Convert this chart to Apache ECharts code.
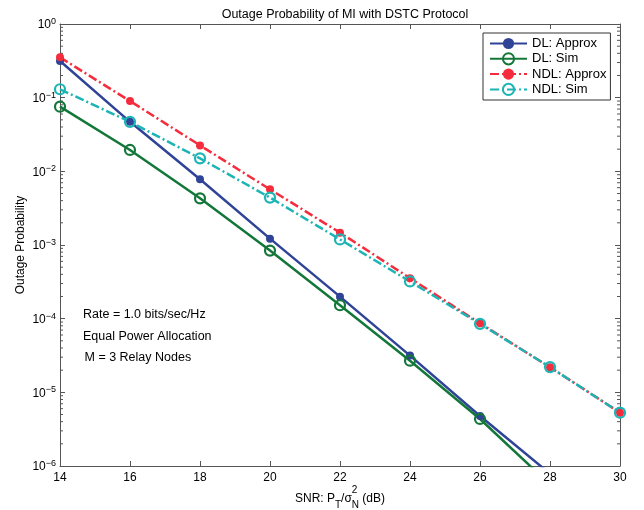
<!DOCTYPE html>
<html><head><meta charset="utf-8">
<script src="https://cdn.jsdelivr.net/npm/echarts@6/dist/echarts.min.js"></script>
<style>html,body{margin:0;padding:0;background:#fff}#c{width:644px;height:510px}</style>
</head><body><div id="c"></div>
<script>
// ---- data ----
const snr = [14, 16, 18, 20, 22, 24, 26, 28, 30];
const dlApprox  = [0.315, 0.047, 0.0078, 0.00122, 1.99e-4, 3.15e-5, 4.77e-6, 7.85e-7, 1.25e-7];
const dlSim     = [0.0755, 0.0195, 0.0043, 8.4e-4, 1.52e-4, 2.69e-5, 4.35e-6, 5.6e-7, 8.0e-8];
const ndlApprox = [0.353, 0.090, 0.0225, 0.0057, 0.00147, 3.55e-4, 8.65e-5, 2.19e-5, 5.3e-6];
const ndlSim    = [0.130, 0.047, 0.0150, 0.0044, 0.00119, 3.2e-4, 8.5e-5, 2.2e-5, 5.3e-6];
const seriesNames = ['DL: Approx', 'DL: Sim', 'NDL: Approx', 'NDL: Sim'];
const yExpMin = -6, yExpMax = 0;
const titleText = 'Outage Probability of MI with DSTC Protocol';
const yName = 'Outage Probability';
const annotations = ['Rate = 1.0 bits/sec/Hz', 'Equal Power Allocation', 'M = 3 Relay Nodes'];

const FONT = 'Liberation Sans, Arial, Helvetica, sans-serif';
const AX = '#555';
const GL = 60, GR = 24, GT = 24, GB = 44;
const W = 644, H = 510;

const chart = echarts.init(document.getElementById('c'), null, {renderer: 'canvas'});

const pairs = arr => snr.map((x, i) => [x, arr[i]]);

// minor tick values on log axis
const minorVals = [];
for (let e = yExpMin; e < yExpMax; e++) for (let m = 2; m <= 9; m++) minorVals.push([snr[0], m * Math.pow(10, e)]);

function expLabel(v) {
  const e = Math.round(Math.log10(v));
  return '{b|10}{s|' + (e < 0 ? '\u2212' + (-e) : e) + '}';
}

const colors = {blue: '#2f4497', green: '#14773a', red: '#f52c3c', cyan: '#1cb4b4'};
const dashDot = [9, 3, 2, 3];

function lineSeries(name, data, color, filled, dash) {
  return {
    name, type: 'line', data: pairs(data), z: 3,
    symbol: 'circle',
    symbolSize: filled ? 8 : 10,
    showSymbol: true,
    lineStyle: {color, width: 2.5, type: dash ? dashDot : 'solid'},
    itemStyle: filled ? {color, borderWidth: 0} : {color: 'rgba(255,255,255,0)', borderColor: color, borderWidth: 2.2},
    emphasis: {disabled: true},
    animation: false
  };
}

// x axis name: rich text + stacked superscript "2" above the N subscript
const mctx = document.createElement('canvas').getContext('2d');
function tw(t, size) { mctx.font = size + 'px ' + FONT; return mctx.measureText(t).width; }
const xnParts = [['SNR: P', 12], ['T', 10], ['/\u03c3', 12], ['N', 10], [' (dB)', 12]];
let totalW = 0; xnParts.forEach(p => totalW += tw(p[0], p[1]));
const plotCX = GL + (W - GL - GR) / 2;
const nX = plotCX - totalW / 2 + tw(xnParts[0][0], 12) + tw(xnParts[1][0], 10) + tw(xnParts[2][0], 12);
const xNameText = '{n|SNR: P}{sub|T}{n|/\u03c3}{sub|N}{n| (dB)}';

const option = {
  animation: false,
  backgroundColor: '#fff',
  title: {
    text: titleText, left: plotCX, top: 3, textAlign: 'center',
    textStyle: {fontFamily: FONT, fontSize: 12.5, fontWeight: 'normal', color: '#000'}
  },
  grid: {left: GL, right: GR, top: GT, bottom: GB, outerBoundsMode: 'none', containLabel: false},
  legend: {
    data: seriesNames, orient: 'vertical', left: 483, top: 33,
    backgroundColor: '#fff', borderColor: '#333', borderWidth: 1,
    padding: [4, 4, 4, 6], itemGap: 2.2, itemWidth: 37, itemHeight: 14,
    textStyle: {fontFamily: FONT, fontSize: 13, color: '#000'},
    selectedMode: false
  },
  xAxis: [{
    type: 'value', min: 14, max: 30, interval: 2, position: 'bottom',
    name: xNameText, nameLocation: 'middle', nameGap: 22, nameMoveOverlap: false,
    nameTextStyle: {
      rich: {
        n: {fontFamily: FONT, fontSize: 12, color: '#000', lineHeight: 22, verticalAlign: 'middle'},
        sub: {fontFamily: FONT, fontSize: 10, color: '#000', lineHeight: 22, verticalAlign: 'bottom'}
      }
    },
    axisLine: {lineStyle: {color: AX, width: 1}},
    axisTick: {inside: true, length: 5, lineStyle: {color: AX}},
    axisLabel: {fontFamily: FONT, fontSize: 12, color: '#000', margin: 6},
    splitLine: {show: false}
  }, {
    type: 'value', min: 14, max: 30, interval: 2, position: 'top',
    axisLine: {lineStyle: {color: AX, width: 1}},
    axisTick: {inside: true, length: 5, lineStyle: {color: AX}},
    axisLabel: {show: false}, splitLine: {show: false}
  }],
  yAxis: [{
    type: 'log', logBase: 10, min: Math.pow(10, yExpMin), max: Math.pow(10, yExpMax), interval: 1,
    position: 'left',
    name: yName, nameLocation: 'middle', nameGap: 33, nameMoveOverlap: false,
    nameTextStyle: {fontFamily: FONT, fontSize: 12, color: '#000'},
    axisLine: {show: true, lineStyle: {color: AX, width: 1}},
    axisTick: {inside: true, length: 5, lineStyle: {color: AX}},
    axisLabel: {
      formatter: expLabel, margin: 4,
      rich: {
        b: {fontFamily: FONT, fontSize: 12, color: '#000', verticalAlign: 'bottom', lineHeight: 14},
        s: {fontFamily: FONT, fontSize: 9, color: '#000', verticalAlign: 'top', lineHeight: 9}
      }
    },
    splitLine: {show: false}
  }, {
    type: 'log', logBase: 10, min: Math.pow(10, yExpMin), max: Math.pow(10, yExpMax), interval: 1,
    position: 'right',
    axisLine: {show: true, lineStyle: {color: AX, width: 1}},
    axisTick: {inside: true, length: 5, lineStyle: {color: AX}},
    axisLabel: {show: false}, splitLine: {show: false}
  }],
  graphic: [
    {type: 'text', id: 'sup2', x: nX, y: 490, style: {text: '2', font: '10px ' + FONT, fill: '#000', verticalAlign: 'middle'}},
    {type: 'text', id: 'a1', x: 83, y: 315, style: {text: annotations[0], font: '12.5px ' + FONT, fill: '#000', verticalAlign: 'middle'}},
    {type: 'text', id: 'a2', x: 83, y: 337, style: {text: annotations[1], font: '12.5px ' + FONT, fill: '#000', verticalAlign: 'middle'}},
    {type: 'text', id: 'a3', x: 84.5, y: 358, style: {text: annotations[2], font: '12.5px ' + FONT, fill: '#000', verticalAlign: 'middle'}}
  ],
  series: [
    {
      type: 'custom', name: 'minorTicks', data: minorVals, z: 1, silent: true,
      renderItem: (params, api) => {
        const v = api.value(1);
        const pl = api.coord([14, v]);
        const pr = api.coord([30, v]);
        return {type: 'group', children: [
          {type: 'line', shape: {x1: pl[0], y1: pl[1], x2: pl[0] + 3, y2: pl[1]}, style: {stroke: AX, lineWidth: 1}},
          {type: 'line', shape: {x1: pr[0], y1: pr[1], x2: pr[0] - 3, y2: pr[1]}, style: {stroke: AX, lineWidth: 1}}
        ]};
      }
    },
    lineSeries(seriesNames[0], dlApprox, colors.blue, true, false),
    lineSeries(seriesNames[1], dlSim, colors.green, false, false),
    lineSeries(seriesNames[2], ndlApprox, colors.red, true, true),
    lineSeries(seriesNames[3], ndlSim, colors.cyan, false, true)
  ]
};
chart.setOption(option);
</script>
</body></html>
